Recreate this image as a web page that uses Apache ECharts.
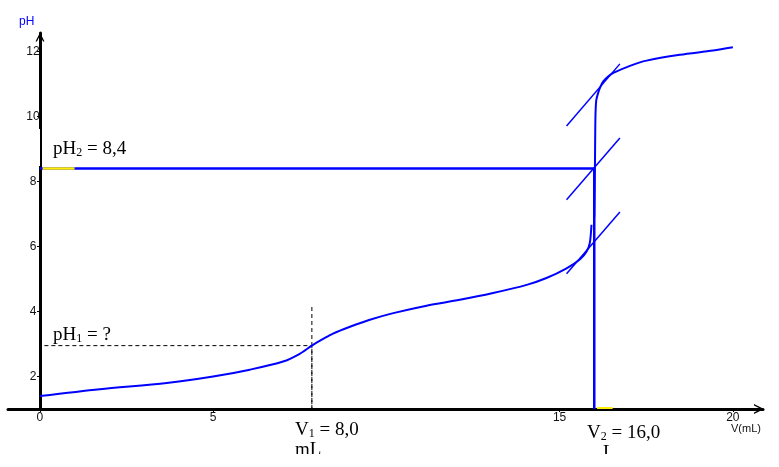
<!DOCTYPE html>
<html>
<head>
<meta charset="utf-8">
<script src="https://cdn.jsdelivr.net/npm/echarts@6/dist/echarts.min.js"></script>
<style>
html,body{margin:0;padding:0;background:#fff;}
#chart{width:779px;height:467px;}
</style>
</head>
<body>
<div id="chart"></div>
<script>
// ---- data ----
const xTickValues = [0, 5, 15, 20];
const yTickValues = [2, 4, 6, 8, 10, 12];

// titration curve, lower branch (V in mL, pH)
const lowerV  = [0, 1.73, 3.66, 5.0, 6.06, 7.02, 7.5, 7.85, 8.2, 8.46, 8.95, 9.5, 10.2, 11.16, 12.12, 13.08, 14.05, 14.62, 15.2, 15.59, 15.78, 15.87, 15.92];
const lowerPH = [1.40, 1.61, 1.80, 2.0, 2.21, 2.46, 2.70, 2.95, 3.17, 3.32, 3.53, 3.74, 3.95, 4.18, 4.36, 4.57, 4.82, 5.03, 5.33, 5.61, 5.85, 6.10, 6.67];
// titration curve, upper branch
const upperV  = [16.0, 16.02, 16.03, 16.04, 16.06, 16.11, 16.18, 16.26, 16.4, 16.55, 17.03, 17.51, 18.47, 19.43, 20.0];
const upperPH = [6.9, 8.5, 9.7, 10.2, 10.51, 10.72, 10.92, 11.08, 11.23, 11.34, 11.56, 11.72, 11.90, 12.03, 12.13];

// parallel tangents
const tangentV       = [15.2, 16.74];
const tangentHighPH  = [9.71, 11.62];
const tangentMidPH   = [7.44, 9.34];
const tangentLowPH   = [5.16, 7.06];

// equivalence point construction
const eqV = [0, 16.0, 16.0];
const eqPH = [8.4, 8.4, 1.0];

// half-equivalence dashed construction
const halfV  = [0.13, 7.85, 7.85];
const halfPH = [2.95, 2.95, 1.0];
const halfTopPH = 4.15;

// small yellow marks
const yellowA_V = [0.08, 1.0];
const yellowA_PH = [8.4, 8.4];
const yellowB_V = [16.08, 16.53];
const yellowB_PH = [1.03, 1.03];

const pairs = (xs, ys) => xs.map((x, i) => [x, ys[i]]);

const chart = echarts.init(document.getElementById('chart'), null, {renderer: 'canvas'});
const blue = '#0000ff';
const chevron = 'path://M0,10 L5,0 L10,10 L8.4,10 L5,3.2 L1.6,10 Z';

const lineSeries = (data, opts) => Object.assign({
  type: 'line', data: data, showSymbol: false, symbol: 'none', silent: true,
  animation: false, lineStyle: {color: blue, width: 2}
}, opts);

chart.setOption({
  animation: false,
  backgroundColor: '#fff',
  grid: {left: 8, right: 16, top: 33, bottom: 58, containLabel: false, outerBoundsMode: 'none'},
  xAxis: {
    type: 'value', min: -0.92, max: 20.87,
    splitLine: {show: false},
    axisLine: {show: true, lineStyle: {color: '#000', width: 3},
      symbol: ['none', chevron], symbolSize: [10, 11], symbolOffset: [0, -4]},
    axisTick: {show: true, length: 3, lineStyle: {color: '#000', width: 1}, customValues: xTickValues},
    axisLabel: {customValues: xTickValues, margin: 3, color: '#111',
      fontFamily: 'Liberation Sans', fontSize: 12}
  },
  yAxis: {
    type: 'value', min: 1, max: 12.57, offset: -32,
    splitLine: {show: false},
    axisLine: {show: true, onZero: false, lineStyle: {color: '#000', width: 3},
      symbol: ['none', chevron], symbolSize: [9, 11], symbolOffset: [0, -4]},
    axisTick: {show: true, length: 3, lineStyle: {color: '#000', width: 1}, customValues: yTickValues},
    axisLabel: {customValues: yTickValues, margin: 7, color: '#111', align: 'center',
      fontFamily: 'Liberation Sans', fontSize: 12, padding: [0, 0, 7, 0]}
  },
  series: [
    lineSeries(pairs(eqV, eqPH), {lineStyle: {color: blue, width: 2.5}, z: 3}),
    lineSeries(pairs(halfV, halfPH), {lineStyle: {color: '#000', width: 1, type: [4, 3]}, z: 2}),
    lineSeries([[halfV[1], halfPH[2]], [halfV[1], halfTopPH]], {lineStyle: {color: '#000', width: 1, type: [4, 3]}, z: 2}),
    lineSeries(pairs(lowerV, lowerPH), {smooth: 0.3, lineStyle: {color: blue, width: 2}, z: 4}),
    lineSeries(pairs(upperV, upperPH), {smooth: 0.3, lineStyle: {color: blue, width: 2}, z: 4}),
    lineSeries(pairs(tangentV, tangentHighPH), {lineStyle: {color: blue, width: 1.5}, z: 4}),
    lineSeries(pairs(tangentV, tangentMidPH), {lineStyle: {color: blue, width: 1.5}, z: 4}),
    lineSeries(pairs(tangentV, tangentLowPH), {lineStyle: {color: blue, width: 1.5}, z: 4}),
    lineSeries(pairs(yellowA_V, yellowA_PH), {lineStyle: {color: '#ffee00', width: 2.5}, z: 5}),
    lineSeries(pairs(yellowB_V, yellowB_PH), {lineStyle: {color: '#ffee00', width: 2}, z: 5})
  ],
  graphic: [
    {type: 'text', left: 19, top: 16, z: 50,
      style: {text: 'pH', fill: blue, font: '12px "Liberation Sans"'}},
    {type: 'text', left: 731, top: 423, z: 50,
      style: {text: 'V(mL)', fill: '#111', font: '11px "Liberation Sans"'}},
    {type: 'text', left: 53, top: 140, z: 50,
      style: {text: '{a|pH}{s|2}{a| = 8,4}', rich: {
        a: {fontFamily: 'Liberation Serif', fontSize: 19, lineHeight: 20, verticalAlign: 'bottom', fill: '#000'},
        s: {fontFamily: 'Liberation Serif', fontSize: 12, lineHeight: 10, verticalAlign: 'bottom', fill: '#000'}}}},
    {type: 'text', left: 53, top: 326, z: 50,
      style: {text: '{a|pH}{s|1}{a| = ?}', rich: {
        a: {fontFamily: 'Liberation Serif', fontSize: 19, lineHeight: 20, verticalAlign: 'bottom', fill: '#000'},
        s: {fontFamily: 'Liberation Serif', fontSize: 12, lineHeight: 10, verticalAlign: 'bottom', fill: '#000'}}}},
    {type: 'text', left: 295, top: 421, z: 50,
      style: {text: '{a|V}{s|1}{a| = 8,0}\n{a|mL}', rich: {
        a: {fontFamily: 'Liberation Serif', fontSize: 19, lineHeight: 20, verticalAlign: 'bottom', fill: '#000'},
        s: {fontFamily: 'Liberation Serif', fontSize: 12, lineHeight: 10, verticalAlign: 'bottom', fill: '#000'}}}},
    {type: 'text', left: 587, top: 424, z: 50,
      style: {text: '{a|V}{s|2}{a| = 16,0}\n{b|L}', rich: {
        a: {fontFamily: 'Liberation Serif', fontSize: 19, lineHeight: 20, verticalAlign: 'bottom', fill: '#000'},
        b: {fontFamily: 'Liberation Serif', fontSize: 19, lineHeight: 20, verticalAlign: 'bottom', fill: '#000', padding: [0, 0, 0, 16]},
        s: {fontFamily: 'Liberation Serif', fontSize: 12, lineHeight: 10, verticalAlign: 'bottom', fill: '#000'}}}},
    {type: 'rect', left: 260, top: 454, z: 60, shape: {width: 440, height: 13}, style: {fill: '#fff'}},
    {type: 'rect', left: 37.5, top: 129, z: 60, shape: {width: 2.5, height: 37}, style: {fill: '#fff'}}
  ]
});
</script>
</body>
</html>
